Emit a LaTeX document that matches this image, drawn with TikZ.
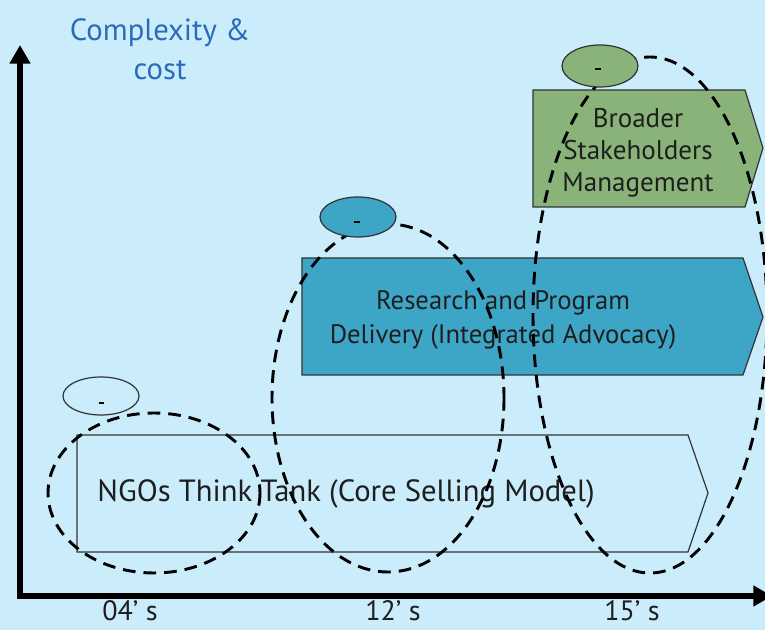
\documentclass[tikz,border=0pt]{standalone}
\usepackage{fontspec}
\setmainfont{PT Sans}
\usetikzlibrary{arrows.meta}
\definecolor{bg}{HTML}{CBEDFB}
\definecolor{bluebox}{HTML}{3DA5C6}
\definecolor{greenbox}{HTML}{8AB37A}
\definecolor{titleblue}{HTML}{2B6CB8}
\definecolor{edge}{HTML}{333333}
\definecolor{txt}{HTML}{1E1E1E}
\begin{document}
\begin{tikzpicture}[x=0.75pt,y=-0.75pt,
  axis/.style={line width=4.5pt,-{Triangle[length=14pt,width=15pt]}},
  phase/.style={draw=edge,line width=0.9pt},
  era/.style={draw=black,line width=2.2pt,dash pattern=on 9.5pt off 6pt},
  smallell/.style={draw=edge,line width=0.9pt},
  lbl/.style={text=txt,font=\fontsize{21}{24}\selectfont,inner sep=0pt,anchor=base},
  boxtxt/.style={text=txt,inner sep=0pt,align=center}]
\fill[bg] (0,0) rectangle (765,630);
\useasboundingbox (0,0) rectangle (765,630);

% axes
\coordinate (origin) at (20,596);
\coordinate (ytop) at (20,45);
\coordinate (xend) at (772,596);
\draw[axis] (20,599) -- (ytop);
\draw[axis] (17,596) -- (xend);
\node[text=titleblue,align=center,font=\fontsize{23}{29}\selectfont,inner sep=0pt] (title) at (160,49) {Complexity \&\\cost};
\node[lbl] (l04) at (130,621) {04’ s};
\node[lbl] (l12) at (393,621) {12’ s};
\node[lbl] (l15) at (632,621) {15’ s};

% phase boxes
\draw[phase] (77,435) -- (688,435) -- (708,493) -- (688,552) -- (77,552) -- cycle;
\node[boxtxt,font=\fontsize{23}{26}\selectfont] (ngo) at (346,494) {NGOs Think Tank (Core Selling Model)};
\draw[phase,fill=bluebox] (302,258) -- (743,258) -- (763,317) -- (743,375) -- (302,375) -- cycle;
\node[boxtxt,font=\fontsize{20}{25}\selectfont] (res) at (503,320) {Research and Program\\Delivery (Integrated Advocacy)};
\draw[phase,fill=greenbox] (533,90) -- (745,90) -- (763,148) -- (745,207) -- (533,207) -- cycle;
\node[boxtxt,font=\fontsize{20.3}{24}\selectfont] (stake) at (638,153) {Broader\\Stakeholders\\Management};

% era ellipses
\draw[era] (154,493) ellipse [x radius=106,y radius=80];
\draw[era] (388,398) ellipse [x radius=116,y radius=174];
\draw[era] (650,315) ellipse [x radius=117,y radius=258];

% small markers
\draw[smallell,fill=bg] (101,396) ellipse [x radius=38,y radius=19];
\node[inner sep=0pt] (m1) at (101,403) {};
\fill[black] (99,402) rectangle (104,404);
\draw[smallell,fill=bluebox] (358,217) ellipse [x radius=38,y radius=20];
\node[inner sep=0pt] (m2) at (357,222) {};
\fill[black] (354,221) rectangle (360,223);
\draw[smallell,fill=greenbox] (600,66) ellipse [x radius=38,y radius=21];
\node[inner sep=0pt] (m3) at (598,69) {};
\fill[black] (595,68) rectangle (601,70);
\end{tikzpicture}
\end{document}
